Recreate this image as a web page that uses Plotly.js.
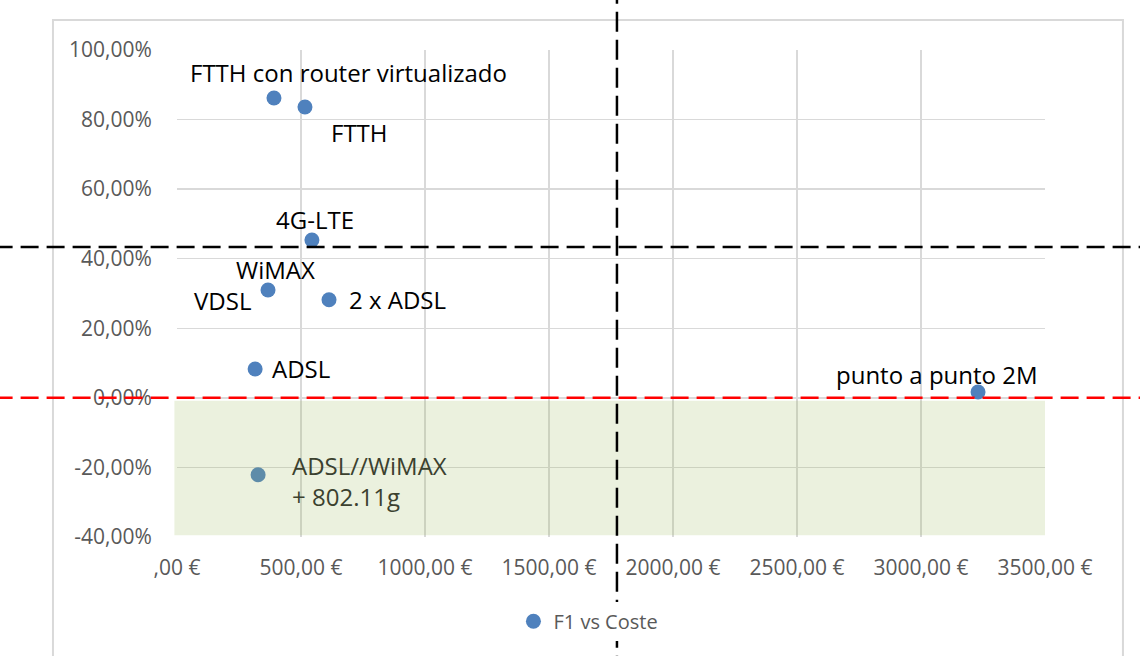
<!DOCTYPE html>
<html lang="es">
<head>
    <meta charset="UTF-8">
    <title>F1 vs Coste</title>
    <script src="https://cdn.plot.ly/plotly-3.0.0.min.js" charset="utf-8"></script>
    <style>
        body { margin: 0; background: #fff; }
        #plot { width: 1140px; height: 656px; }
    </style>
</head>
<body>
<div id="plot"></div>
<script>
    // Datos: coste (EUR) y F1 (%)
    const tecnologias = ['FTTH con router virtualizado', 'FTTH', '4G-LTE', 'WiMAX', '2 x ADSL', 'ADSL', 'ADSL//WiMAX + 802.11g', 'punto a punto 2M'];
    const coste = [391, 516, 544, 367, 613, 315, 327, 3230];
    const f1 = [86.2, 83.6, 45.4, 31.0, 28.2, 8.3, -22.1, 1.7];

    // Umbrales
    const umbralCoste = 1774;
    const umbralF1 = 43.4;

    // Ejes
    const xTicks = [0, 500, 1000, 1500, 2000, 2500, 3000, 3500];
    const xTickText = [',00 €', '500,00 €', '1000,00 €', '1500,00 €', '2000,00 €', '2500,00 €', '3000,00 €', '3500,00 €'];
    const yTicks = [-40, -20, 0, 20, 40, 60, 80, 100];
    const yTickText = ['-40,00%', '-20,00%', '0,00%', '20,00%', '40,00%', '60,00%', '80,00%', '100,00%'];

    // Etiquetas: desplazamiento en pixeles respecto al punto
    const labelPos = [
        {text: 'FTTH con router virtualizado', i: 0, dx: 75, dy: 26, anchor: 'center'},
        {text: 'FTTH', i: 1, dx: 55, dy: -25, anchor: 'center'},
        {text: '4G-LTE', i: 2, dx: 3, dy: 20, anchor: 'center'},
        {text: 'WiMAX', i: 3, dx: 7, dy: 21, anchor: 'center'},
        {text: 'VDSL', i: 3, dx: -15, dy: -10, anchor: 'right'},
        {text: '2 x ADSL', i: 4, dx: 18, dy: 0, anchor: 'left'},
        {text: 'ADSL', i: 5, dx: 15, dy: 0, anchor: 'left'},
        {text: 'ADSL//WiMAX<br>+ 802.11g', i: 6, dx: 32, dy: -6, anchor: 'left', color: '#3b412f'},
        {text: 'punto a punto 2M', i: 7, dx: -41, dy: 17, anchor: 'center'}
    ];

    const fontFam = '"Open Sans", "Noto Sans", sans-serif';

    const trace = {
        x: coste,
        y: f1,
        text: tecnologias,
        mode: 'markers',
        type: 'scatter',
        name: 'F1 vs Coste',
        marker: { color: '#4f81bd', size: 15 },
        hoverinfo: 'text'
    };

    const annotations = labelPos.map(l => ({
        x: coste[l.i],
        y: f1[l.i],
        text: l.text,
        showarrow: false,
        xanchor: l.anchor,
        yanchor: 'middle',
        align: 'left',
        xshift: l.dx,
        yshift: l.dy,
        font: { family: fontFam, size: 24, color: l.color || '#000' }
    }));

    const layout = {
        width: 1140,
        height: 656,
        margin: { l: 177, r: 95, t: 50, b: 119 },
        paper_bgcolor: '#fff',
        plot_bgcolor: '#fff',
        showlegend: true,
        legend: {
            orientation: 'h',
            x: 0.474,
            xanchor: 'center',
            y: -0.173,
            yanchor: 'middle',
            font: { family: fontFam, size: 20, color: '#595959' }
        },
        xaxis: {
            range: [0, 3500],
            tickvals: xTicks,
            ticktext: xTickText,
            showgrid: true,
            gridcolor: '#d9d9d9',
            gridwidth: 1.5,
            zeroline: false,
            showline: false,
            ticks: 'outside',
            ticklen: 12,
            tickcolor: 'rgba(0,0,0,0)',
            tickfont: { family: fontFam, size: 21, color: '#595959' }
        },
        yaxis: {
            range: [-40, 100],
            tickvals: yTicks,
            ticktext: yTickText,
            showgrid: true,
            gridcolor: '#d9d9d9',
            gridwidth: 1.5,
            zeroline: false,
            showline: false,
            ticks: 'outside',
            ticklen: 20,
            tickcolor: 'rgba(0,0,0,0)',
            tickfont: { family: fontFam, size: 21, color: '#595959' }
        },
        shapes: [
            // borde del grafico
            {
                type: 'rect', xref: 'paper', yref: 'paper',
                x0: -0.1429, x1: 1.0898, y0: -0.35, y1: 1.0616,
                line: { color: '#d9d9d9', width: 2 },
                layer: 'below'
            },
            // zona verde
            {
                type: 'rect', xref: 'paper', yref: 'y',
                x0: -0.003, x1: 1, y0: -39.5, y1: -0.8,
                fillcolor: 'rgba(155,187,89,0.2)',
                line: { width: 0 },
                layer: 'above'
            },
            // umbral coste
            {
                type: 'line', xref: 'x', yref: 'paper',
                x0: umbralCoste, x1: umbralCoste, y0: -0.4, y1: 1.3,
                line: { color: '#000', width: 2.5, dash: '20px,8px' },
                layer: 'above'
            },
            // umbral F1
            {
                type: 'line', xref: 'paper', yref: 'y',
                x0: -0.3, x1: 1.2, y0: umbralF1, y1: umbralF1,
                line: { color: '#000', width: 2.5, dash: '18px,8px' },
                layer: 'above'
            },
            // F1 = 0
            {
                type: 'line', xref: 'paper', yref: 'y',
                x0: -0.3, x1: 1.2, y0: 0, y1: 0,
                line: { color: '#ff0000', width: 2.5, dash: '18px,8px' },
                layer: 'above'
            }
        ],
        annotations: annotations
    };

    Plotly.newPlot('plot', [trace], layout, { displayModeBar: false, staticPlot: true });
</script>
</body>
</html>
